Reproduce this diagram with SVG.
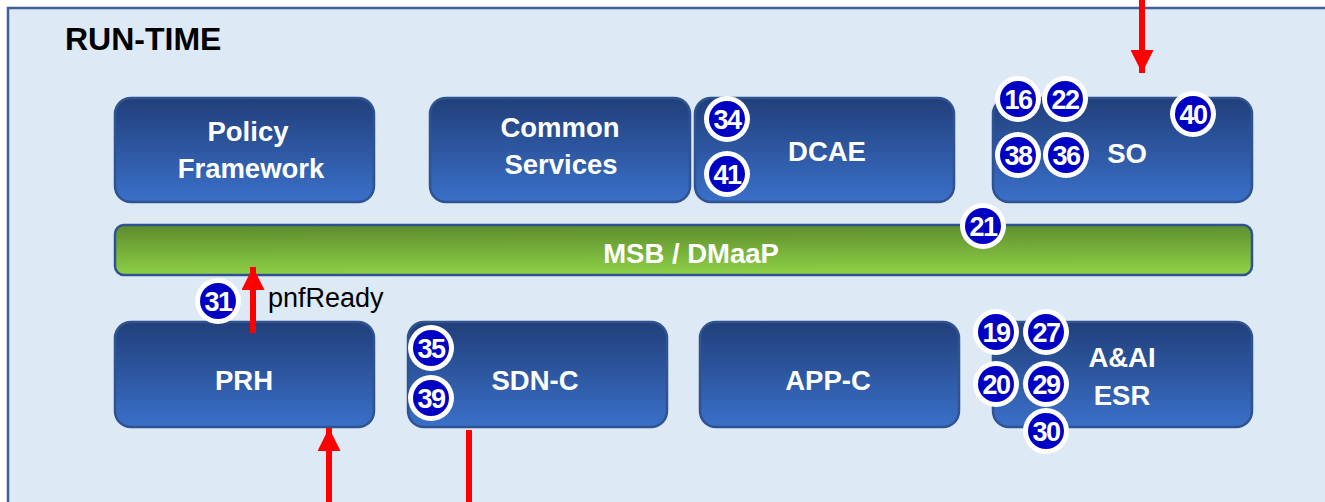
<svg xmlns="http://www.w3.org/2000/svg" width="1325" height="502" viewBox="0 0 1325 502">
<defs>
<linearGradient id="gb" x1="0" y1="0" x2="0" y2="1">
<stop offset="0" stop-color="#213f7a"/>
<stop offset="1" stop-color="#3a70c9"/>
</linearGradient>
<linearGradient id="gg" x1="0" y1="0" x2="0.05" y2="1">
<stop offset="0" stop-color="#5c8b2d"/>
<stop offset="1" stop-color="#8ed046"/>
</linearGradient>
<marker id="ah" viewBox="0 0 23 23" refX="23" refY="11.5" markerWidth="23" markerHeight="23" markerUnits="userSpaceOnUse" orient="auto">
<path d="M0,0 L23,11.5 L0,23 Z" fill="#ff0000"/>
</marker>
<style>
.node{fill:url(#gb);stroke:#2f5390;stroke-width:2.5}
.bus{fill:url(#gg);stroke:#2f5390;stroke-width:2.5}
.lbl{font-family:"Liberation Sans",Arial,sans-serif;font-weight:bold;font-size:27.5px;fill:#ffffff;text-anchor:middle}
.bo{fill:#ffffff}
.bi{fill:#0000c4}
.bt{font-family:"Liberation Sans",Arial,sans-serif;font-weight:bold;font-size:27px;fill:#ffffff;text-anchor:middle;letter-spacing:-1.5px}
.red{stroke:#ff0000;stroke-width:6;fill:none}
</style>
</defs>
<rect x="8" y="8" width="1330" height="510" fill="#dde9f5" stroke="#3e5f98" stroke-width="2.5"/>
<text x="65" y="50" font-family="Liberation Sans,Arial,sans-serif" font-weight="bold" font-size="32" fill="#000000">RUN-TIME</text>

<g id="policy">
<rect class="node" x="115" y="98" width="259" height="104" rx="16"/>
<text class="lbl" x="248" y="141">Policy</text>
<text class="lbl" x="251" y="178">Framework</text>
</g>
<g id="common">
<rect class="node" x="430" y="98" width="260" height="104" rx="16"/>
<text class="lbl" x="560" y="137">Common</text>
<text class="lbl" x="561" y="174">Services</text>
</g>
<g id="dcae">
<rect class="node" x="695" y="98" width="259" height="104" rx="16"/>
<text class="lbl" x="827" y="161">DCAE</text>
</g>
<g id="so">
<rect class="node" x="993" y="98" width="259" height="104" rx="16"/>
<text class="lbl" x="1127" y="163">SO</text>
</g>
<g id="msb">
<rect class="bus" x="115" y="225" width="1137" height="50" rx="9"/>
<text class="lbl" x="691" y="263">MSB / DMaaP</text>
</g>
<g id="prh">
<rect class="node" x="115" y="322" width="259" height="105" rx="16"/>
<text class="lbl" x="244" y="390">PRH</text>
</g>
<g id="sdnc">
<rect class="node" x="408" y="322" width="259" height="105" rx="16"/>
<text class="lbl" x="535" y="390">SDN-C</text>
</g>
<g id="appc">
<rect class="node" x="700" y="322" width="259" height="105" rx="16"/>
<text class="lbl" x="828" y="390">APP-C</text>
</g>
<g id="aai">
<rect class="node" x="993" y="322" width="259" height="105" rx="16"/>
<text class="lbl" x="1122" y="367">A&amp;AI</text>
<text class="lbl" x="1122" y="405">ESR</text>
</g>

<g id="connectors">
<line class="red" x1="1142" y1="0" x2="1142" y2="73" marker-end="url(#ah)"/>
<line class="red" x1="253" y1="333" x2="253" y2="267" marker-end="url(#ah)"/>
<line class="red" x1="329" y1="502" x2="329" y2="428" marker-end="url(#ah)"/>
<line class="red" x1="469" y1="430" x2="469" y2="502"/>
<text x="268" y="307" font-family="Liberation Sans,Arial,sans-serif" font-size="27" fill="#000000">pnfReady</text>
</g>

<g id="badges">
<g id="b16"><circle class="bo" cx="1018" cy="99" r="23"/><circle class="bi" cx="1018" cy="99" r="18"/><text class="bt" x="1018" y="109">16</text></g>
<g id="b22"><circle class="bo" cx="1065" cy="99" r="23"/><circle class="bi" cx="1065" cy="99" r="18"/><text class="bt" x="1065" y="109">22</text></g>
<g id="b40"><circle class="bo" cx="1193" cy="114" r="23"/><circle class="bi" cx="1193" cy="114" r="18"/><text class="bt" x="1193" y="124">40</text></g>
<g id="b38"><circle class="bo" cx="1018" cy="155" r="23"/><circle class="bi" cx="1018" cy="155" r="18"/><text class="bt" x="1018" y="165">38</text></g>
<g id="b36"><circle class="bo" cx="1066" cy="155" r="23"/><circle class="bi" cx="1066" cy="155" r="18"/><text class="bt" x="1066" y="165">36</text></g>
<g id="b34"><circle class="bo" cx="727" cy="119" r="23"/><circle class="bi" cx="727" cy="119" r="18"/><text class="bt" x="727" y="129">34</text></g>
<g id="b41"><circle class="bo" cx="727" cy="174" r="23"/><circle class="bi" cx="727" cy="174" r="18"/><text class="bt" x="727" y="184">41</text></g>
<g id="b21"><circle class="bo" cx="983" cy="226" r="23"/><circle class="bi" cx="983" cy="226" r="18"/><text class="bt" x="983" y="236">21</text></g>
<g id="b31"><circle class="bo" cx="218" cy="301" r="23"/><circle class="bi" cx="218" cy="301" r="18"/><text class="bt" x="218" y="311">31</text></g>
<g id="b35"><circle class="bo" cx="431" cy="348" r="23"/><circle class="bi" cx="431" cy="348" r="18"/><text class="bt" x="431" y="358">35</text></g>
<g id="b39"><circle class="bo" cx="431" cy="398" r="23"/><circle class="bi" cx="431" cy="398" r="18"/><text class="bt" x="431" y="408">39</text></g>
<g id="b19"><circle class="bo" cx="996" cy="332" r="23"/><circle class="bi" cx="996" cy="332" r="18"/><text class="bt" x="996" y="342">19</text></g>
<g id="b27"><circle class="bo" cx="1046" cy="332" r="23"/><circle class="bi" cx="1046" cy="332" r="18"/><text class="bt" x="1046" y="342">27</text></g>
<g id="b20"><circle class="bo" cx="996" cy="384" r="23"/><circle class="bi" cx="996" cy="384" r="18"/><text class="bt" x="996" y="394">20</text></g>
<g id="b29"><circle class="bo" cx="1046" cy="384" r="23"/><circle class="bi" cx="1046" cy="384" r="18"/><text class="bt" x="1046" y="394">29</text></g>
<g id="b30"><circle class="bo" cx="1046" cy="431" r="23"/><circle class="bi" cx="1046" cy="431" r="18"/><text class="bt" x="1046" y="441">30</text></g>
</g>
</svg>
